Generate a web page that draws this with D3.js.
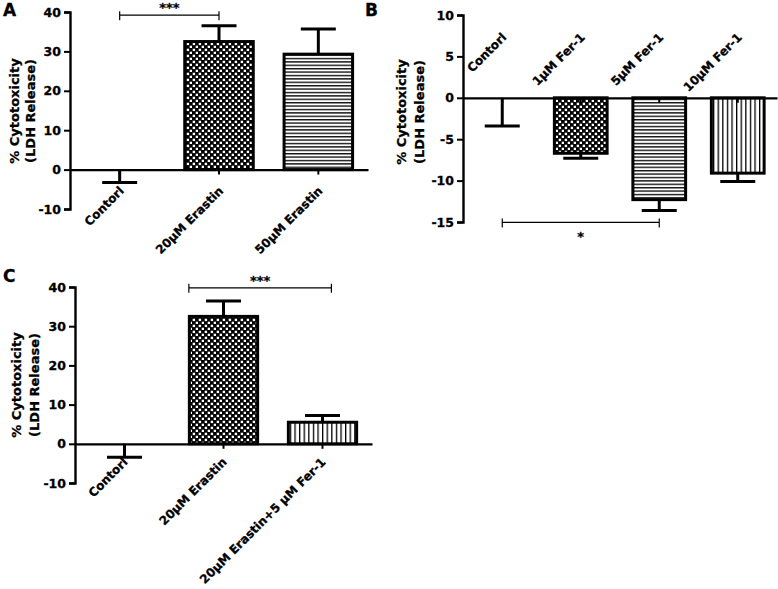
<!DOCTYPE html>
<html><head><meta charset="utf-8">
<script src="https://cdn.jsdelivr.net/npm/d3@7/dist/d3.min.js"></script>
<style>
body{margin:0;background:#fff;}
svg text{font-family:"DejaVu Sans",sans-serif;font-weight:bold;fill:#000;stroke:#000;stroke-width:0.3px;}
</style></head>
<body>
<script>
// ---- data ----
const catsA = ["Contorl", "20µM Erastin", "50µM Erastin"];
const meansA = [0, 32.5, 29.3];
const errsA = [3.3, 4.0, 6.4];
const patsA = ["none", "checker", "hstripe"];
const ticksA = [-10, 0, 10, 20, 30, 40];

const catsB = ["Contorl", "1µM Fer-1", "5µM Fer-1", "10µM Fer-1"];
const meansB = [0, -6.7, -12.3, -9.1];
const errsB = [3.4, 0.6, 1.3, 1.0];
const patsB = ["none", "checker", "hstripe", "vstripe"];
const ticksB = [-15, -10, -5, 0, 5, 10];

const catsC = ["Contorl", "20µM Erastin", "20µM Erastin+5 µM Fer-1"];
const meansC = [0, 32.5, 5.5];
const errsC = [3.4, 3.9, 1.7];
const patsC = ["none", "checker", "vstripe"];
const ticksC = [-10, 0, 10, 20, 30, 40];

const yTitle = ["% Cytotoxicity", "(LDH Release)"];

const FONT = "'DejaVu Sans',sans-serif";
const svg = d3.select("body").append("svg").attr("width", 778).attr("height", 589);
const defs = svg.append("defs");
// patterns
const pc = defs.append("pattern").attr("id","checker").attr("patternUnits","userSpaceOnUse").attr("width",6).attr("height",6);
pc.append("rect").attr("width",6).attr("height",6).attr("fill","#000");
pc.append("rect").attr("x",0.7).attr("y",0.7).attr("width",2.4).attr("height",2.4).attr("fill","#fff");
pc.append("rect").attr("x",3.7).attr("y",3.7).attr("width",2.4).attr("height",2.4).attr("fill","#fff");
const ph = defs.append("pattern").attr("id","hstripe").attr("patternUnits","userSpaceOnUse").attr("width",4).attr("height",3.4);
ph.append("rect").attr("width",4).attr("height",3.4).attr("fill","#fff");
ph.append("rect").attr("width",4).attr("height",1.4).attr("fill","#111");
const pv = defs.append("pattern").attr("id","vstripe").attr("patternUnits","userSpaceOnUse").attr("width",4.6).attr("height",4);
pv.append("rect").attr("width",4.6).attr("height",4).attr("fill","#fff");
pv.append("rect").attr("width",1.3).attr("height",4).attr("fill","#000");

function panel(cfg){
  const g = svg.append("g");
  const x = d3.scaleBand().domain(cfg.cats).range(cfg.xr).padding(0);
  const y = d3.scaleLinear().domain(d3.extent(cfg.ticks)).range(cfg.yr);
  const bw = x.step()*cfg.bwf - 3;
  const cx = c => x(c) + x.step()/2;
  const data = cfg.cats.map((c,i)=>({c, v:cfg.means[i], e:cfg.errs[i], p:cfg.pats[i]}));

  // bars
  g.selectAll("rect.bar").data(data.filter(d=>d.p!=="none")).enter().append("rect")
    .attr("x", d=>cx(d.c)-bw/2).attr("width", bw)
    .attr("y", d=>Math.min(y(0), y(d.v))).attr("height", d=>Math.abs(y(d.v)-y(0)))
    .attr("fill", d=>`url(#${d.p})`).attr("stroke","#000").attr("stroke-width",3);

  // x axis at zero
  const xa = g.append("g").attr("transform",`translate(0,${y(0)})`)
    .call(d3.axisBottom(x).tickSize(5).tickSizeOuter(0).tickFormat(""));
  xa.select(".domain").attr("stroke-width",2.2);
  xa.selectAll(".tick line").attr("stroke-width",2);

  // y axis
  const ya = g.append("g").attr("transform",`translate(${cfg.xr[0]},0)`)
    .call(d3.axisLeft(y).tickValues(cfg.ticks).tickSize(6).tickSizeOuter(6).tickPadding(3).tickFormat(d=>String(d)));
  ya.select(".domain").attr("stroke-width",2.4);
  ya.selectAll(".tick line").attr("stroke-width",2);
  ya.selectAll(".tick text").style("font-size","12.5px").style("font-family",FONT).style("font-weight","bold")
    .attr("stroke","#000").attr("stroke-width",0.3);

  // error bars
  data.forEach(d=>{
    const dir = d.v > 0 ? 1 : -1;
    const y1 = y(d.v), y2 = y(d.v + dir*d.e);
    g.append("line").attr("x1",cx(d.c)).attr("x2",cx(d.c)).attr("y1",y1).attr("y2",y2).attr("stroke","#000").attr("stroke-width",3);
    g.append("line").attr("x1",cx(d.c)-17.5).attr("x2",cx(d.c)+17.5).attr("y1",y2).attr("y2",y2).attr("stroke","#000").attr("stroke-width",3);
  });

  // category labels
  data.forEach(d=>{
    const px = cx(d.c) + cfg.lblDx, py = cfg.lblY(y);
    g.append("text").attr("x",px).attr("y",py).attr("transform",`rotate(-45 ${px} ${py})`)
      .attr("text-anchor","end").style("font-size","12px").text(d.c);
  });

  // y title
  yTitle.forEach((t,i)=>{
    g.append("text").attr("transform",`translate(${cfg.titleX[i]},${cfg.titleY}) rotate(-90)`)
      .attr("text-anchor","middle").style("font-size","13px").text(t);
  });

  // significance bracket
  const s = cfg.sig;
  const sx1 = cx(cfg.cats[s.a]) + s.da*x.step(), sx2 = cx(cfg.cats[s.b]) + s.db*x.step(), sy = y(s.v);
  g.append("path").attr("d",`M${sx1},${sy-4}V${sy+5}M${sx1},${sy}H${sx2}M${sx2},${sy-4}V${sy+5}`)
    .attr("stroke","#000").attr("stroke-width",1.2).attr("fill","none");
  g.append("text").attr("x",(sx1+sx2)/2).attr("y",sy+s.ty).attr("text-anchor","middle").style("font-size","13px").text(s.label);

  // panel letter
  g.append("text").attr("x",cfg.letter[1]).attr("y",cfg.letter[2]).style("font-size","17px").text(cfg.letter[0]);
}

panel({cats:catsA, means:meansA, errs:errsA, pats:patsA, ticks:ticksA,
  xr:[70,368], yr:[209,12], bwf:0.72, lblDx:5, lblY:y=>y(0)+22,
  titleX:[19,35], titleY:111,
  sig:{a:0,b:1,da:0,db:0,v:39.2,label:"***",ty:-3},
  letter:["A",3,16]});

panel({cats:catsB, means:meansB, errs:errsB, pats:patsB, ticks:ticksB,
  xr:[463,777], yr:[222,15], bwf:0.71, lblDx:5, lblY:y=>38,
  titleX:[406,424], titleY:112,
  sig:{a:0,b:2,da:0,db:0,v:-15.05,label:"*",ty:19},
  letter:["B",365,16]});

panel({cats:catsC, means:meansC, errs:errsC, pats:patsC, ticks:ticksC,
  xr:[75,372], yr:[483,287], bwf:0.72, lblDx:4, lblY:y=>y(0)+19,
  titleX:[21,39], titleY:385,
  sig:{a:1,b:2,da:-0.35,db:0.09,v:39.8,label:"***",ty:-3},
  letter:["C",3,282]});
</script>
</body></html>
